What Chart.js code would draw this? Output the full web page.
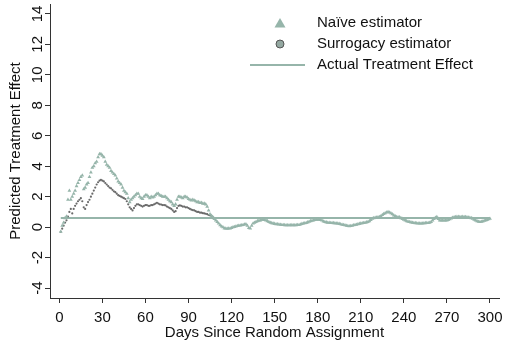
<!DOCTYPE html>
<html>
<head>
<meta charset="utf-8">
<script src="https://cdn.jsdelivr.net/npm/chart.js@4/dist/chart.umd.min.js"></script>
<style>
html,body{margin:0;padding:0;background:#fff;}
#wrap{width:505px;height:345px;position:relative;}
</style>
</head>
<body>
<div id="wrap"><canvas id="c" width="505" height="345"></canvas></div>
<script>
// ---- data ----
const xTicks = [0,30,60,90,120,150,180,210,240,270,300];
const yTicks = [-4,-2,0,2,4,6,8,10,12,14];
const actualEffect = 0.6;
const actualDays = [1,300];

// Naive estimator, days 1..300
const naive = [
 -0.3,0.1,0.3,0.6,0.7,1.8,2.4,1.8,2.0,2.2,
 2.4,2.7,2.9,3.1,3.3,3.4,2.5,2.6,2.8,2.9,
 3.3,3.6,3.9,4.0,4.2,4.3,4.6,4.8,4.8,4.7,
 4.6,4.3,4.1,4.0,3.9,3.7,3.6,3.5,3.4,3.2,
 3.0,2.9,2.8,2.6,2.4,2.3,2.2,1.9,1.65,1.8,
 1.9,2.0,2.1,2.2,2.2,2.0,1.9,1.85,2.0,2.1,
 2.1,2.0,1.9,2.0,1.95,2.0,2.1,2.2,2.2,2.1,
 2.05,2.0,2.0,2.0,1.9,1.8,1.7,1.65,1.5,1.4,
 1.5,1.8,2.0,2.0,1.95,1.9,2.0,2.0,1.95,1.85,
 1.8,1.75,1.8,1.75,1.7,1.65,1.65,1.6,1.6,1.55,
 1.55,1.5,1.35,1.1,0.85,0.75,0.65,0.55,0.45,0.35,
 0.25,0.13,0.05,0.0,-0.08,-0.08,-0.1,-0.08,-0.08,-0.05,
 0.0,0.02,0.05,0.08,0.1,0.12,0.13,0.15,0.18,0.2,
 0.1,-0.05,-0.08,0.1,0.24,0.3,0.35,0.4,0.42,0.45,
 0.5,0.5,0.48,0.45,0.4,0.35,0.3,0.27,0.24,0.22,
 0.2,0.2,0.18,0.17,0.15,0.15,0.14,0.13,0.13,0.13,
 0.13,0.14,0.13,0.13,0.14,0.15,0.15,0.18,0.22,0.24,
 0.26,0.28,0.32,0.36,0.4,0.43,0.45,0.47,0.49,0.5,
 0.5,0.48,0.44,0.38,0.34,0.32,0.3,0.29,0.28,0.28,
 0.27,0.26,0.25,0.24,0.22,0.2,0.17,0.15,0.13,0.1,
 0.08,0.06,0.08,0.1,0.13,0.15,0.17,0.2,0.22,0.24,
 0.26,0.28,0.3,0.32,0.34,0.4,0.48,0.56,0.6,0.62,
 0.64,0.66,0.67,0.72,0.8,0.87,0.92,0.97,1.0,0.97,
 0.92,0.85,0.78,0.72,0.67,0.66,0.65,0.6,0.55,0.5,
 0.45,0.4,0.36,0.34,0.32,0.3,0.28,0.27,0.26,0.25,
 0.24,0.24,0.25,0.26,0.27,0.28,0.28,0.3,0.35,0.45,
 0.55,0.62,0.67,0.55,0.45,0.45,0.44,0.44,0.45,0.45,
 0.47,0.52,0.58,0.62,0.65,0.67,0.68,0.68,0.67,0.67,
 0.68,0.67,0.67,0.66,0.64,0.62,0.6,0.56,0.5,0.45,
 0.4,0.36,0.34,0.36,0.38,0.42,0.45,0.48,0.52,0.56
];

// Surrogacy estimator, days 1..107 (coincides with naive afterwards)
const surrogacy = [
 -0.3,-0.1,0.1,0.3,0.45,0.7,1.0,1.2,0.9,1.2,
 1.4,1.55,1.7,1.8,1.9,1.7,1.3,1.2,1.45,1.65,
 1.8,2.0,2.2,2.4,2.6,2.8,2.95,3.05,3.1,3.05,
 3.0,2.9,2.8,2.7,2.6,2.55,2.45,2.35,2.3,2.2,
 2.1,2.05,2.0,1.95,1.9,1.85,1.7,1.5,1.3,1.2,
 1.1,1.25,1.4,1.5,1.5,1.45,1.4,1.35,1.4,1.45,
 1.45,1.4,1.4,1.45,1.45,1.5,1.55,1.6,1.55,1.5,
 1.48,1.45,1.45,1.43,1.35,1.3,1.25,1.2,1.1,1.0,
 1.05,1.25,1.4,1.43,1.4,1.35,1.35,1.3,1.3,1.25,
 1.2,1.15,1.12,1.1,1.05,1.0,1.0,0.95,0.95,0.92,
 0.9,0.88,0.85,0.8,0.78,0.75,0.65
];

const SAGE = '#96b5aa';
const DARK = '#6a6a6a';
const AXIS = '#333333';
const FONT = '"Liberation Sans", Arial, Helvetica, sans-serif';

const naivePts = naive.map((v,i)=>({x:i+1,y:v}));
const surrPts = surrogacy.map((v,i)=>({x:i+1,y:v}));
const actualPts = actualDays.map(d=>({x:d,y:actualEffect}));

const yLabelsPlugin = {
  id:'yLabels',
  afterDraw(chart){
    const ctx = chart.ctx, ys = chart.scales.y;
    ctx.save();
    ctx.fillStyle = '#111';
    ctx.font = '15px ' + FONT;
    ctx.textAlign = 'center';
    ctx.textBaseline = 'middle';
    yTicks.forEach(v=>{
      const py = ys.getPixelForValue(v);
      ctx.save();
      ctx.translate(38, py);
      ctx.rotate(-Math.PI/2);
      ctx.fillText(String(v), 0, 0);
      ctx.restore();
    });
    ctx.restore();
  }
};

const legendPlugin = {
  id:'customLegend',
  afterDraw(chart){
    const ctx = chart.ctx;
    ctx.save();
    ctx.fillStyle = SAGE;
    ctx.beginPath();
    ctx.moveTo(280, 18);
    ctx.lineTo(285.5, 27.5);
    ctx.lineTo(274.5, 27.5);
    ctx.closePath();
    ctx.fill();
    ctx.beginPath();
    ctx.arc(280, 44, 4, 0, Math.PI*2);
    ctx.fillStyle = '#94a8a1';
    ctx.fill();
    ctx.lineWidth = 1;
    ctx.strokeStyle = '#555';
    ctx.stroke();
    ctx.beginPath();
    ctx.moveTo(250, 65);
    ctx.lineTo(305, 65);
    ctx.lineWidth = 2;
    ctx.strokeStyle = SAGE;
    ctx.stroke();
    ctx.fillStyle = '#111';
    ctx.font = '15px ' + FONT;
    ctx.textAlign = 'left';
    ctx.textBaseline = 'middle';
    const labels = chart.data.datasets.map(d=>d.label);
    ctx.fillText(labels[0], 317, 23);
    ctx.fillText(labels[1], 317, 44);
    ctx.fillText(labels[2], 317, 65);
    ctx.restore();
  }
};

new Chart(document.getElementById('c'), {
  type:'scatter',
  data:{
    datasets:[
      {label:'Naïve estimator', data:naivePts, pointStyle:'triangle', pointRadius:2.2,
       backgroundColor:SAGE, borderColor:SAGE, borderWidth:0, order:1},
      {label:'Surrogacy estimator', data:surrPts, pointStyle:'circle', pointRadius:1.1,
       backgroundColor:DARK, borderColor:DARK, borderWidth:0, order:2},
      {label:'Actual Treatment Effect', data:actualPts, showLine:true, pointRadius:0,
       borderColor:SAGE, borderWidth:2, order:3}
    ]
  },
  options:{
    responsive:false,
    animation:false,
    events:[],
    layout:{padding:{top:2,right:6,left:0,bottom:0}},
    plugins:{legend:{display:false}, tooltip:{enabled:false}},
    scales:{
      x:{
        type:'linear', min:-6.5, max:306.3,
        afterBuildTicks(s){ s.ticks = xTicks.map(v=>({value:v})); },
        afterFit(s){ s.height = 47; s.paddingLeft = 0; s.paddingRight = 0; },
        grid:{display:true, drawOnChartArea:false, drawTicks:true, tickLength:5, color:AXIS, lineWidth:1},
        border:{display:true, color:AXIS, width:1},
        ticks:{color:'#111', font:{family:FONT, size:15}, padding:6, maxRotation:0, autoSkip:false},
        title:{display:true, text:'Days Since Random Assignment', color:'#111',
               font:{family:FONT, size:15}, padding:{top:0,bottom:3}}
      },
      y:{
        type:'linear', min:-4.65, max:14.65,
        afterBuildTicks(s){ s.ticks = yTicks.map(v=>({value:v})); },
        afterFit(s){ s.width = 50; s.paddingTop = 0; s.paddingBottom = 0; },
        grid:{display:true, drawOnChartArea:false, drawTicks:true, tickLength:5, color:AXIS, lineWidth:1},
        border:{display:true, color:AXIS, width:1},
        ticks:{color:'rgba(0,0,0,0)', font:{family:FONT, size:15}, autoSkip:false},
        title:{display:true, text:'Predicted Treatment Effect', color:'#111',
               font:{family:FONT, size:15}, padding:{top:7,bottom:0}}
      }
    }
  },
  plugins:[yLabelsPlugin, legendPlugin]
});
</script>
</body>
</html>
